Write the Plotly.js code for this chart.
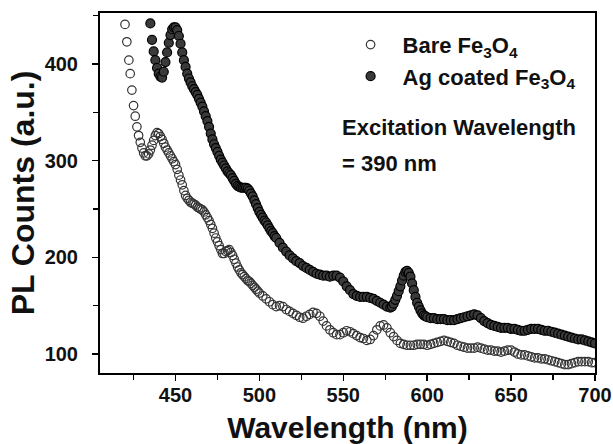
<!DOCTYPE html>
<html>
<head>
<meta charset="utf-8">
<script src="https://cdn.plot.ly/plotly-3.0.1.min.js"></script>
<style>html,body{margin:0;padding:0;background:#fff;}#chart{width:613px;height:444px;}</style>
</head>
<body>
<div id="chart"></div>
<script>
// Bare Fe3O4 (open circles)
var bareX = [419.9,421,422.2,423,424,425,426,427,428,429,430,431,432,433,434,435,436,437,438,439,440,441,442,443,444,445,446,447,448,449,
450,451,452,453,454,455,456,457,458,459,460,461,462,463,464,465,466,467,468,469,470,471,472,473,474,475,476,477,478,479,480,481,482,483,484,485,486,487,488,489,490,491,492,493,494,495,496,497,498,499,500,
502,504,506,508,510,512,514,516,518,520,522,524,526,528,530,532,534,536,538,540,542,544,546,548,550,552,554,556,558,560,562,564,566,568,570,572,574,576,578,580,582,584,586,588,590,592,594,596,598,600,602,604,606,608,610,612,614,616,618,620,622,624,626,628,630,632,634,636,638,640,642,644,646,648,650,652,654,656,658,660,662,664,666,668,670,672,674,676,678,680,682,684,686,688,690,692,694,696,698,700];
var bareY = [441,423,404,390,373,357,346,335,326,319,313,308,305,305,307,311,316,321,326,329,328,325,322,318,314,311,308,305,302,299,
296,291,285,280,275,269,264,261,259,257,256,255,254,252,251,250,249,247,244,241,238,234,230,225,220,216,212,208,204,204,206,207,208,205,202,198,194,190,187,184,182,180,178,176,175,173,171,169,167,165,163,
160,157,154,151,149,150,149,146,144,142,140,138,137,139,141,143,142,139,134,129,125,122,120,120,122,124,123,121,119,117,116,114,115,119,125,129,130,127,122,118,114,111,110,109,109,109,110,110,110,109,110,111,112,113,114,113,112,111,109,108,107,106,106,106,107,106,105,104,104,103,103,102,103,104,104,102,100,99,99,98,97,96,96,95,95,94,93,92,91,90,89,89,90,91,92,92,92,92,91,91];

// Ag coated Fe3O4 (filled circles)
var agX = [435,436,437,438,439,440,441,442,443,444,445,446,447,448,449,450,451,452,453,454,455,456,457,
458,459,460,461,462,463,464,465,466,467,468,469,470,471,472,473,474,475,476,477,478,479,480,481,482,483,484,485,486,487,488,489,490,491,492,493,494,495,496,497,498,499,500,501,502,503,504,505,506,507,508,509,510,
512,514,516,518,520,522,524,526,528,530,532,534,536,538,540,542,544,546,548,550,552,554,556,558,560,562,564,566,568,570,572,574,576,
578,579,580,581,582,583,584,585,586,587,588,589,590,591,592,593,594,595,596,597,598,599,600,
602,604,606,608,610,612,614,616,618,620,622,624,626,628,630,632,634,636,638,640,642,644,646,648,650,652,654,656,658,660,662,664,666,668,670,672,674,676,678,680,682,684,686,688,690,692,694,696,698,700];
var agY = [442,425,413,404,396,390,387,386,392,402,412,422,430,436,438,438,435,429,421,412,404,397,390,
385,381,377,374,371,368,364,360,356,351,346,341,335,328,322,317,313,309,305,301,298,295,292,289,287,285,282,279,276,274,273,272,272,272,272,271,269,266,263,259,255,251,247,244,241,238,236,233,230,227,225,222,220,
215,210,206,202,199,196,194,191,189,187,185,183,182,181,181,180,181,181,179,175,170,166,162,160,159,159,159,158,157,155,153,151,149,
148,149,152,156,160,165,170,176,181,185,186,184,180,173,166,159,153,149,145,142,140,139,138,
137,137,136,136,136,135,135,135,136,137,138,139,140,141,140,137,134,132,130,129,128,127,127,127,126,126,125,124,124,125,126,126,126,125,124,124,123,122,121,120,119,118,117,116,115,115,114,113,112,111];

var seriesNames = ['Bare Fe<sub>3</sub>O<sub>4</sub>', 'Ag coated Fe<sub>3</sub>O<sub>4</sub>'];
var xTickVals = [450,500,550,600,650,700];
var yTickVals = [100,200,300,400];

var fontFam = 'Liberation Sans, Arial, sans-serif';

var traces = [
  {x: bareX, y: bareY, type: 'scatter', mode: 'markers', name: seriesNames[0],
   marker: {symbol: 'circle-open', size: 8.5, color: '#333', line: {width: 1.2, color: '#333'}}},
  {x: agX, y: agY, type: 'scatter', mode: 'markers', name: seriesNames[1],
   marker: {symbol: 'circle', size: 9, color: '#3a3a3a', line: {width: 1.2, color: '#000'}}}
];

var layout = {
  width: 613, height: 444,
  margin: {l: 100, r: 18, t: 13, b: 71},
  paper_bgcolor: '#fff', plot_bgcolor: '#fff',
  showlegend: true,
  legend: {x: 0.482, y: 0.97, xanchor: 'left', yanchor: 'top', bgcolor: 'rgba(0,0,0,0)', itemwidth: 54,
           font: {family: fontFam, size: 22, color: '#111', weight: 'bold'}, tracegroupgap: 0},
  xaxis: {
    range: [405, 700], tickvals: xTickVals, ticks: 'outside', ticklen: 6, tickwidth: 1.5, tickcolor: '#000',
    minor: {dtick: 25, tick0: 425, ticks: 'outside', ticklen: 5, tickwidth: 1.5, tickcolor: '#000'},
    showline: true, linecolor: '#000', linewidth: 2, mirror: true, showgrid: false, zeroline: false,
    tickfont: {family: fontFam, size: 20, color: '#111', weight: 'bold'}, ticklabelstandoff: -3,
    title: {text: 'Wavelength (nm)', font: {family: fontFam, size: 30, color: '#111', weight: 'bold'}, standoff: 12}
  },
  yaxis: {
    range: [80.3, 452.8], tickvals: yTickVals, ticks: 'outside', ticklen: 6, tickwidth: 1.5, tickcolor: '#000',
    minor: {dtick: 50, tick0: 50, ticks: 'outside', ticklen: 5, tickwidth: 1.5, tickcolor: '#000'},
    showline: true, linecolor: '#000', linewidth: 2, mirror: true, showgrid: false, zeroline: false,
    tickfont: {family: fontFam, size: 20, color: '#111', weight: 'bold'}, ticklabelstandoff: 10,
    title: {text: 'PL Counts (a.u.)', font: {family: fontFam, size: 32, color: '#111', weight: 'bold'}, standoff: 0}
  },
  annotations: [
    {text: 'Excitation Wavelength', xref: 'paper', yref: 'paper', x: 0.485, y: 0.683, xanchor: 'left', yanchor: 'middle',
     showarrow: false, font: {family: fontFam, size: 22, color: '#111', weight: 'bold'}},
    {text: '= 390 nm', xref: 'paper', yref: 'paper', x: 0.485, y: 0.583, xanchor: 'left', yanchor: 'middle',
     showarrow: false, font: {family: fontFam, size: 22, color: '#111', weight: 'bold'}}
  ]
};

Plotly.newPlot('chart', traces, layout, {displayModeBar: false, staticPlot: true});
</script>
</body>
</html>
